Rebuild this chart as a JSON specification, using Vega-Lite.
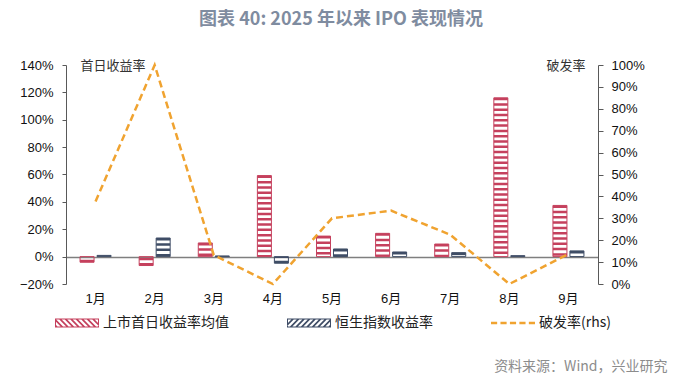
{
  "$schema": "https://vega.github.io/schema/vega-lite/v6.json",
  "width": 532,
  "height": 219,
  "autosize": "none",
  "padding": {"left": 66, "top": 65, "right": 95, "bottom": 94},
  "background": "white",
  "title": {
    "text": "图表 40: 2025 年以来 IPO 表现情况",
    "font": "Noto Sans CJK SC",
    "fontSize": 18,
    "fontWeight": "bold",
    "color": "#7f8ca0",
    "anchor": "middle",
    "dx": 9,
    "offset": 30
  },
  "config": {
    "view": {"stroke": null},
    "axis": {
      "labelFont": "Liberation Sans, Noto Sans CJK SC",
      "labelFontSize": 13,
      "labelColor": "#111111",
      "domainColor": "#595959",
      "tickColor": "#595959",
      "titleFont": "Noto Sans CJK SC",
      "titleFontWeight": "normal",
      "titleFontSize": 13,
      "titleColor": "#333333"
    }
  },
  "data": {
    "values": [
      {"m": "1月", "s": "上市首日收益率均值", "v": -0.041},
      {"m": "2月", "s": "上市首日收益率均值", "v": -0.065},
      {"m": "3月", "s": "上市首日收益率均值", "v": 0.10},
      {"m": "4月", "s": "上市首日收益率均值", "v": 0.592},
      {"m": "5月", "s": "上市首日收益率均值", "v": 0.15},
      {"m": "6月", "s": "上市首日收益率均值", "v": 0.17},
      {"m": "7月", "s": "上市首日收益率均值", "v": 0.092},
      {"m": "8月", "s": "上市首日收益率均值", "v": 1.16},
      {"m": "9月", "s": "上市首日收益率均值", "v": 0.374},
      {"m": "1月", "s": "恒生指数收益率", "v": 0.009},
      {"m": "2月", "s": "恒生指数收益率", "v": 0.136},
      {"m": "3月", "s": "恒生指数收益率", "v": 0.005},
      {"m": "4月", "s": "恒生指数收益率", "v": -0.048},
      {"m": "5月", "s": "恒生指数收益率", "v": 0.056},
      {"m": "6月", "s": "恒生指数收益率", "v": 0.034},
      {"m": "7月", "s": "恒生指数收益率", "v": 0.029},
      {"m": "8月", "s": "恒生指数收益率", "v": 0.007},
      {"m": "9月", "s": "恒生指数收益率", "v": 0.042},
      {"m": "1月", "s": "破发率(rhs)", "v": 0.377},
      {"m": "2月", "s": "破发率(rhs)", "v": 1.0},
      {"m": "3月", "s": "破发率(rhs)", "v": 0.132},
      {"m": "4月", "s": "破发率(rhs)", "v": 0.0},
      {"m": "5月", "s": "破发率(rhs)", "v": 0.30},
      {"m": "6月", "s": "破发率(rhs)", "v": 0.335},
      {"m": "7月", "s": "破发率(rhs)", "v": 0.225},
      {"m": "8月", "s": "破发率(rhs)", "v": 0.0},
      {"m": "9月", "s": "破发率(rhs)", "v": 0.137}
    ]
  },
  "encoding": {
    "x": {
      "field": "m",
      "type": "nominal",
      "scale": {"domain": ["1月", "2月", "3月", "4月", "5月", "6月", "7月", "8月", "9月"], "paddingInner": 0, "paddingOuter": 0},
      "axis": {
        "domain": false,
        "ticks": false,
        "grid": false,
        "labelAngle": 0,
        "labelPadding": 8,
        "title": "资料来源：Wind，兴业研究",
        "titleAngle": 0,
        "titleAlign": "right",
        "titleBaseline": "middle",
        "titleX": 601,
        "titleY": 82,
        "titleFontSize": 14,
        "titleColor": "#8c8c8c"
      }
    }
  },
  "layer": [
    {
      "transform": [{"filter": "datum.s !== '破发率(rhs)'"}],
      "encoding": {
        "xOffset": {
          "field": "s",
          "type": "nominal",
          "scale": {"domain": ["上市首日收益率均值", "恒生指数收益率"], "paddingInner": 0.176, "paddingOuter": 0.8265}
        },
        "y": {
          "field": "v",
          "type": "quantitative",
          "scale": {"domain": [-0.2, 1.4], "nice": false, "zero": false},
          "axis": {
            "orient": "left",
            "values": [-0.2, 0, 0.2, 0.4, 0.6, 0.8, 1.0, 1.2, 1.4],
            "format": ".0%",
            "tickSize": 4,
            "labelPadding": 9,
            "grid": true,
            "gridColor": "#7f7f7f",
            "gridWidth": 1.5,
            "gridOpacity": {"condition": {"test": "datum.value === 0", "value": 1}, "value": 0},
            "title": "首日收益率",
            "titleAngle": 0,
            "titleAlign": "left",
            "titleBaseline": "middle",
            "titleX": 14,
            "titleY": 0
          }
        },
        "y2": {"datum": 0}
      },
      "layer": [
        {
          "mark": {"type": "rule", "strokeWidth": 14, "strokeDash": [2.5, 2.8], "strokeCap": "butt"},
          "encoding": {
            "stroke": {
              "field": "s",
              "type": "nominal",
              "scale": {"domain": ["上市首日收益率均值", "恒生指数收益率"], "range": ["#c5405d", "#3f4d66"]},
              "legend": null
            }
          }
        },
        {
          "mark": {"type": "bar", "fill": "transparent", "strokeWidth": 1},
          "encoding": {
            "stroke": {
              "field": "s",
              "type": "nominal",
              "scale": {"domain": ["上市首日收益率均值", "恒生指数收益率"], "range": ["#d77a8f", "#7d8aa0"]},
              "legend": null
            }
          }
        }
      ]
    },
    {
      "layer": [
        {
          "transform": [{"filter": "datum.s === '破发率(rhs)'"}],
          "mark": {"type": "line", "color": "#f0a330", "strokeWidth": 2.5, "strokeDash": [7, 4]},
          "encoding": {
            "y": {
              "field": "v",
              "type": "quantitative",
              "scale": {"domain": [0, 1], "nice": false, "zero": false},
              "axis": {
                "orient": "right",
                "values": [0, 0.1, 0.2, 0.3, 0.4, 0.5, 0.6, 0.7, 0.8, 0.9, 1.0],
                "format": ".0%",
                "tickSize": 5,
                "labelPadding": 8,
                "grid": false,
                "title": "破发率",
                "titleAngle": 0,
                "titleAlign": "right",
                "titleBaseline": "middle",
                "titleX": -13,
                "titleY": 0
              }
            }
          }
        },
        {
          "transform": [{"filter": "false"}],
          "mark": {"type": "point", "filled": true},
          "encoding": {
            "color": {
              "field": "s",
              "type": "nominal",
              "scale": {"domain": ["上市首日收益率均值", "恒生指数收益率", "破发率(rhs)"], "range": ["#c5405d", "#3f4d66", "#f0a330"]},
              "legend": {
                "title": null,
                "orient": "none",
                "legendX": -11,
                "legendY": 236,
                "direction": "horizontal",
                "symbolSize": 1936,
                "symbolStrokeWidth": 0,
                "symbolOpacity": 1,
                "labelFont": "Noto Sans CJK SC",
                "labelFontSize": 14,
                "labelColor": "#222222",
                "labelOffset": 4,
                "columnPadding": 58
              }
            },
            "shape": {
              "field": "s",
              "type": "nominal",
              "scale": {
                "domain": ["上市首日收益率均值", "恒生指数收益率", "破发率(rhs)"],
                "range": [
                  "M-1,-0.2L1,-0.2L1,0.2L-1,0.2Z M-0.955,-0.155L-0.955,0.155L0.955,0.155L0.955,-0.155Z M-1,0.04L-0.84,0.2L-0.95,0.2L-1,0.15Z M-1,-0.2L-0.99,-0.2L-0.59,0.2L-0.7,0.2L-1,-0.1Z M-0.85,-0.2L-0.74,-0.2L-0.34,0.2L-0.45,0.2Z M-0.6,-0.2L-0.49,-0.2L-0.09,0.2L-0.2,0.2Z M-0.35,-0.2L-0.24,-0.2L0.16,0.2L0.05,0.2Z M-0.1,-0.2L0.01,-0.2L0.41,0.2L0.3,0.2Z M0.15,-0.2L0.26,-0.2L0.66,0.2L0.55,0.2Z M0.4,-0.2L0.51,-0.2L0.91,0.2L0.8,0.2Z M0.65,-0.2L0.76,-0.2L1,0.04L1,0.15Z M0.9,-0.2L1,-0.2L1,-0.1Z",
                  "M-1,-0.2L1,-0.2L1,0.2L-1,0.2Z M-0.955,-0.155L-0.955,0.155L0.955,0.155L0.955,-0.155Z M1,0.15L0.95,0.2L0.84,0.2L1,0.04Z M1,-0.1L0.7,0.2L0.59,0.2L0.99,-0.2L1,-0.2Z M0.45,0.2L0.34,0.2L0.74,-0.2L0.85,-0.2Z M0.2,0.2L0.09,0.2L0.49,-0.2L0.6,-0.2Z M-0.05,0.2L-0.16,0.2L0.24,-0.2L0.35,-0.2Z M-0.3,0.2L-0.41,0.2L-0.01,-0.2L0.1,-0.2Z M-0.55,0.2L-0.66,0.2L-0.26,-0.2L-0.15,-0.2Z M-0.8,0.2L-0.91,0.2L-0.51,-0.2L-0.4,-0.2Z M-1,0.15L-1,0.04L-0.76,-0.2L-0.65,-0.2Z M-1,-0.1L-1,-0.2L-0.9,-0.2Z",
                  "M-1,-0.055L-0.72,-0.055L-0.72,0.055L-1,0.055Z M-0.57,-0.055L-0.29,-0.055L-0.29,0.055L-0.57,0.055Z M-0.14,-0.055L0.14,-0.055L0.14,0.055L-0.14,0.055Z M0.29,-0.055L0.57,-0.055L0.57,0.055L0.29,0.055Z M0.72,-0.055L1,-0.055L1,0.055L0.72,0.055Z"
                ]
              },
              "legend": {
                "title": null,
                "orient": "none",
                "legendX": -11,
                "legendY": 236,
                "direction": "horizontal",
                "symbolSize": 1936,
                "symbolStrokeWidth": 0,
                "symbolOpacity": 1,
                "labelFont": "Noto Sans CJK SC",
                "labelFontSize": 14,
                "labelColor": "#222222",
                "labelOffset": 4,
                "columnPadding": 58
              }
            }
          }
        }
      ]
    }
  ],
  "resolve": {"scale": {"y": "independent"}}
}
